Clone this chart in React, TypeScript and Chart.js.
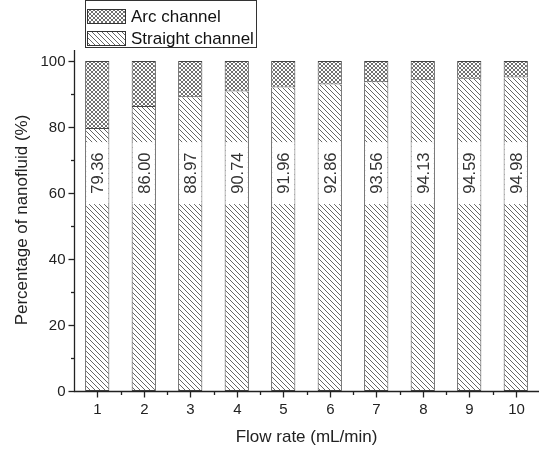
import React, { useEffect, useRef } from "react";
import { Chart, registerables } from "chart.js";

Chart.register(...registerables);

const categories = ["1", "2", "3", "4", "5", "6", "7", "8", "9", "10"];
const straightValues = [79.36, 86.0, 88.97, 90.74, 91.96, 92.86, 93.56, 94.13, 94.59, 94.98];
const arcValues = [20.64, 14.0, 11.03, 9.26, 8.04, 7.14, 6.44, 5.87, 5.41, 5.02];
const straightLabels = ["79.36", "86.00", "88.97", "90.74", "91.96", "92.86", "93.56", "94.13", "94.59", "94.98"];
const yTickValues = [0, 20, 40, 60, 80, 100];
const yMinorValues = [10, 30, 50, 70, 90];
const seriesNames = ["Straight channel", "Arc channel"];

const FONT = "'Liberation Sans', Arial, sans-serif";

function makeHatch(): CanvasPattern | string {
  const c = document.createElement("canvas");
  const s = 5;
  c.width = s;
  c.height = s;
  const g = c.getContext("2d");
  if (!g) return "#ccc";
  g.fillStyle = "#fff";
  g.fillRect(0, 0, s, s);
  g.strokeStyle = "#555";
  g.lineWidth = 0.9;
  for (const off of [-s, 0, s]) {
    g.beginPath();
    g.moveTo(off - 1, -1);
    g.lineTo(off + s + 1, s + 1);
    g.stroke();
  }
  const p = g.createPattern(c, "repeat");
  return p || "#ccc";
}

function makeCross(): CanvasPattern | string {
  const c = document.createElement("canvas");
  const s = 4;
  c.width = s;
  c.height = s;
  const g = c.getContext("2d");
  if (!g) return "#888";
  g.fillStyle = "#fff";
  g.fillRect(0, 0, s, s);
  g.strokeStyle = "#606060";
  g.lineWidth = 0.9;
  for (const off of [-s, 0, s]) {
    g.beginPath();
    g.moveTo(off - 1, -1);
    g.lineTo(off + s + 1, s + 1);
    g.stroke();
    g.beginPath();
    g.moveTo(off - 1, s + 1);
    g.lineTo(off + s + 1, -1);
    g.stroke();
  }
  const p = g.createPattern(c, "repeat");
  return p || "#888";
}

export default function App() {
  const ref = useRef<HTMLCanvasElement | null>(null);

  useEffect(() => {
    if (!ref.current) return;
    const hatch = makeHatch();
    const cross = makeCross();

    const decor = {
      id: "decor",
      afterDatasetsDraw(chart: any) {
        const ctx = chart.ctx as CanvasRenderingContext2D;
        const xs = chart.scales.x;
        const ys = chart.scales.y;
        const area = chart.chartArea;
        ctx.save();
        // data labels with white background
        const meta = chart.getDatasetMeta(0);
        const yc = ys.getPixelForValue(66);
        ctx.font = `16.5px ${FONT}`;
        meta.data.forEach((bar: any, i: number) => {
          const w = bar.width;
          ctx.fillStyle = "#fff";
          ctx.fillRect(bar.x - w / 2 + 1, yc - 31, w - 2, 62);
          ctx.save();
          ctx.translate(bar.x + 0.5, yc);
          ctx.rotate(-Math.PI / 2);
          ctx.fillStyle = "#333";
          ctx.textAlign = "center";
          ctx.textBaseline = "middle";
          ctx.fillText(straightLabels[i], 0, 1);
          ctx.restore();
        });

        // axes
        ctx.strokeStyle = "#222";
        ctx.lineWidth = 1.3;
        const axX = Math.round(area.left) + 0.5;
        const axY = Math.round(area.bottom) + 0.5;
        ctx.beginPath();
        ctx.moveTo(axX, area.top);
        ctx.lineTo(axX, axY);
        ctx.lineTo(area.right, axY);
        ctx.stroke();

        // y ticks
        ctx.fillStyle = "#222";
        ctx.font = `15px ${FONT}`;
        ctx.textAlign = "right";
        ctx.textBaseline = "middle";
        yTickValues.forEach((v) => {
          const y = Math.round(ys.getPixelForValue(v)) + 0.5;
          ctx.beginPath();
          ctx.moveTo(axX - 6, y);
          ctx.lineTo(axX, y);
          ctx.stroke();
          ctx.fillText(String(v), axX - 9, y);
        });
        yMinorValues.forEach((v) => {
          const y = Math.round(ys.getPixelForValue(v)) + 0.5;
          ctx.beginPath();
          ctx.moveTo(axX - 3.5, y);
          ctx.lineTo(axX, y);
          ctx.stroke();
        });

        // x ticks
        ctx.textAlign = "center";
        ctx.textBaseline = "top";
        const step = xs.getPixelForValue(1) - xs.getPixelForValue(0);
        categories.forEach((c, i) => {
          const x = Math.round(xs.getPixelForValue(i)) + 0.5;
          ctx.beginPath();
          ctx.moveTo(x, axY);
          ctx.lineTo(x, axY + 6);
          ctx.stroke();
          ctx.fillText(c, x, axY + 11);
          const xm = Math.round(xs.getPixelForValue(i) + step / 2) + 0.5;
          if (i < categories.length - 1) {
            ctx.beginPath();
            ctx.moveTo(xm, axY);
            ctx.lineTo(xm, axY + 3.5);
            ctx.stroke();
          }
        });

        // axis titles
        ctx.font = `17px ${FONT}`;
        ctx.fillStyle = "#222";
        ctx.textAlign = "center";
        ctx.textBaseline = "middle";
        ctx.fillText("Flow rate (mL/min)", (area.left + area.right) / 2, 437);
        ctx.save();
        ctx.translate(22, 220);
        ctx.rotate(-Math.PI / 2);
        ctx.fillText("Percentage of nanofluid (%)", 0, 0);
        ctx.restore();

        // legend
        ctx.lineWidth = 1;
        ctx.strokeStyle = "#333";
        ctx.fillStyle = "#fff";
        ctx.fillRect(85.5, 0.5, 171, 47);
        ctx.strokeRect(85.5, 0.5, 171, 47);
        const items = [
          { name: seriesNames[1], fill: cross, y: 9 },
          { name: seriesNames[0], fill: hatch, y: 31 },
        ];
        items.forEach((it) => {
          ctx.fillStyle = it.fill as any;
          ctx.fillRect(87, it.y, 39, 15);
          ctx.strokeStyle = "#333";
          ctx.strokeRect(87.5, it.y + 0.5, 38, 14);
          ctx.fillStyle = "#111";
          ctx.font = `17px ${FONT}`;
          ctx.textAlign = "left";
          ctx.textBaseline = "middle";
          ctx.fillText(it.name, 131, it.y + 8);
        });
        ctx.restore();
      },
    };

    const chart = new Chart(ref.current, {
      type: "bar",
      data: {
        labels: categories,
        datasets: [
          {
            label: seriesNames[0],
            data: straightValues,
            backgroundColor: hatch as any,
            borderColor: "#444",
            borderWidth: 1,
            borderSkipped: "top",
            barPercentage: 0.52,
            categoryPercentage: 1,
          },
          {
            label: seriesNames[1],
            data: arcValues,
            backgroundColor: cross as any,
            borderColor: "#444",
            borderWidth: 1,
            borderSkipped: false,
            barPercentage: 0.52,
            categoryPercentage: 1,
          },
        ],
      },
      options: {
        animation: false,
        responsive: false,
        maintainAspectRatio: false,
        layout: { padding: { top: 50, right: 0, left: 0, bottom: 0 } },
        plugins: {
          legend: { display: false },
          tooltip: { enabled: false },
        },
        scales: {
          x: {
            stacked: true,
            offset: true,
            grid: { display: false },
            border: { display: false },
            ticks: { display: false },
            afterFit: (s: any) => {
              s.height = 60;
            },
          },
          y: {
            stacked: true,
            min: 0,
            max: 103.3,
            grid: { display: false },
            border: { display: false },
            ticks: { display: false },
            afterFit: (s: any) => {
              s.width = 74;
            },
          },
        },
      },
      plugins: [decor],
    });
    return () => chart.destroy();
  }, []);

  return (
    <div style={{ position: "fixed", left: 0, top: 0, width: 539, height: 451, background: "#fff" }}>
      <canvas ref={ref} width={539} height={451} style={{ display: "block", width: 539, height: 451 }} />
    </div>
  );
}
